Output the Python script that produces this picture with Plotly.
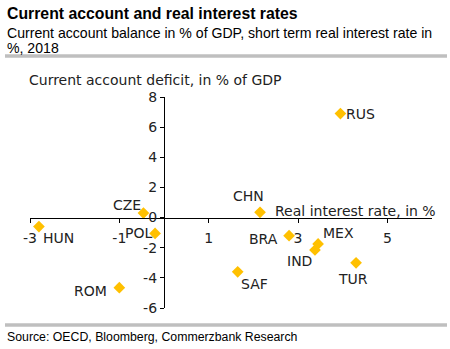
import plotly.graph_objects as go

countries = ["RUS", "CHN", "BRA", "MEX", "IND", "TUR", "SAF", "CZE", "HUN", "POL", "ROM"]
real_rate = [3.95, 2.15, 2.8, 3.45, 3.38, 4.3, 1.65, -0.46, -2.8, -0.2, -1.0]
current_account = [6.9, 0.35, -1.2, -1.75, -2.15, -3.0, -3.6, 0.3, -0.6, -1.05, -4.65]

# label offsets in pixels (dx right, dy down)
label_dx = [20, -12, -26, 20, -15, -3, 17, -16, 20, -17, -29]
label_dy = [0, -16, 3, -11, 11, 16, 12, -8, 11, 0, 3]

x_ticks = [-3, -1, 1, 3, 5]
x_ticktext = ["-3", "-1", "1", "3", "5"]
y_ticks = [-6, -4, -2, 0, 2, 4, 6, 8]
y_ticktext = ["-6", "-4", "-2", "0", "2", "4", "6", "8"]

W, H = 450, 349
L, R, T, B = 30, 432, 97, 308
x_range = [-3, 6]
y_range = [-6, 8]

def px(v):
    return v / W

def py(v):
    return 1 - v / H

chart_font = dict(family="DejaVu Sans", size=14, color="#222222")
gold = "#FFC000"

fig = go.Figure()
fig.add_trace(go.Scatter(
    x=real_rate, y=current_account, mode="markers",
    marker=dict(symbol="diamond", size=9, color=gold),
    hoverinfo="skip", showlegend=False,
))

annotations = []
for c, xv, yv, dx, dy in zip(countries, real_rate, current_account, label_dx, label_dy):
    annotations.append(dict(
        x=xv, y=yv, xref="x", yref="y", text=c, showarrow=False,
        xanchor="center", yanchor="middle", xshift=dx, yshift=-dy,
        font=chart_font,
    ))

# axis titles
annotations.append(dict(x=px(155), y=py(80), xref="paper", yref="paper",
                        text="Current account deficit, in % of GDP", showarrow=False,
                        xanchor="center", yanchor="middle", font=chart_font))
annotations.append(dict(x=px(438), y=py(211), xref="paper", yref="paper",
                        text="Real interest rate, in %", showarrow=False,
                        xanchor="right", yanchor="middle", font=chart_font))

# titles
annotations.append(dict(x=px(5), y=py(13), xref="paper", yref="paper",
                        text="<b>Current account and real interest rates</b>", showarrow=False,
                        xanchor="left", yanchor="middle",
                        font=dict(family="Liberation Sans", size=15.8, color="#000000")))
annotations.append(dict(x=px(5), y=py(33), xref="paper", yref="paper",
                        text="Current account balance in % of GDP, short term real interest rate in",
                        showarrow=False, xanchor="left", yanchor="middle", align="left",
                        font=dict(family="Liberation Sans", size=14.1, color="#000000")))
annotations.append(dict(x=px(5), y=py(47.5), xref="paper", yref="paper",
                        text="%, 2018",
                        showarrow=False, xanchor="left", yanchor="middle", align="left",
                        font=dict(family="Liberation Sans", size=14.1, color="#000000")))
annotations.append(dict(x=px(5), y=py(337), xref="paper", yref="paper",
                        text="Source: OECD, Bloomberg, Commerzbank Research", showarrow=False,
                        xanchor="left", yanchor="middle",
                        font=dict(family="Liberation Sans", size=12.3, color="#000000")))

shapes = [
    dict(type="line", xref="paper", yref="paper", x0=px(5), x1=px(447), y0=py(56), y1=py(56),
         line=dict(color="#BFBFBF", width=3.5)),
    dict(type="line", xref="paper", yref="paper", x0=px(5), x1=px(447), y0=py(325), y1=py(325),
         line=dict(color="#BFBFBF", width=3.5)),
]

y0_pix = B - (0 - y_range[0]) / (y_range[1] - y_range[0]) * (B - T)
x0_pix = L + (0 - x_range[0]) / (x_range[1] - x_range[0]) * (R - L)

fig.update_layout(
    template="none",
    width=W, height=H,
    margin=dict(l=0, r=0, t=0, b=0, pad=0),
    paper_bgcolor="white", plot_bgcolor="white",
    showlegend=False,
    xaxis=dict(domain=[px(L), px(R)], range=x_range, tickvals=x_ticks, ticktext=x_ticktext,
               showgrid=False, zeroline=False, showline=True, linecolor="#000000", linewidth=1.3,
               ticks="outside", ticklen=4, tickcolor="#000000", tickwidth=1.3,
               ticklabelstandoff=3, automargin=False,
               anchor="free", position=py(y0_pix), tickfont=chart_font, fixedrange=True),
    yaxis=dict(domain=[py(B), py(T)], range=y_range, tickvals=y_ticks, ticktext=y_ticktext,
               showgrid=False, zeroline=False, showline=True, linecolor="#000000", linewidth=1.3,
               ticks="outside", ticklen=4, tickcolor="#000000", tickwidth=1.3,
               automargin=False,
               anchor="free", position=px(x0_pix), tickfont=chart_font, fixedrange=True),
    annotations=annotations,
    shapes=shapes,
)

fig.write_html("out.html")
